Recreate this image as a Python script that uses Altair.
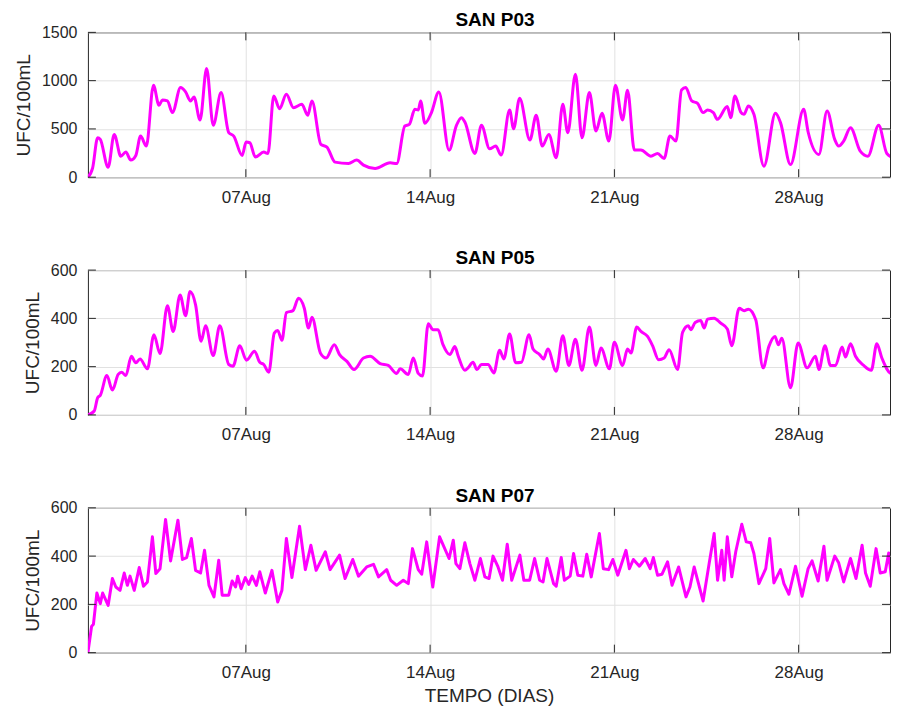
import altair as alt
import pandas as pd

BASE = "2023-08-01"

# ---- SAN P03 ----
p03_days = [0, 0.18, 0.37, 0.47, 0.77, 1.0, 1.25, 1.44, 1.63, 1.82, 2.0, 2.22, 2.49, 2.7, 2.83,
            3.02, 3.21, 3.52, 3.71, 3.9, 4.03, 4.26, 4.51, 4.76, 5.06, 5.35, 5.54, 5.86, 6.01,
            6.15, 6.36, 6.68, 6.84, 7.06, 7.28, 7.54, 7.81, 8.13, 8.35, 8.51, 8.85, 9.08, 9.39,
            9.9, 10.21, 10.47, 10.91, 11.48, 11.73, 12.04, 12.21, 12.42, 12.55, 12.64, 12.8,
            13.05, 13.33, 13.72, 14.0, 14.19, 14.32, 14.7, 14.95, 15.26, 15.49, 15.7, 16.02,
            16.17, 16.4, 16.79, 17.03, 17.26, 17.51, 17.79, 18.04, 18.23, 18.52, 18.77, 19.05,
            19.3, 19.53, 19.79, 20.04, 20.31, 20.5, 20.76, 21.01, 21.39, 21.64, 21.89, 22.11,
            22.34, 22.55, 22.71, 22.94, 23.16, 23.37, 23.54, 23.76, 23.91, 24.29, 24.42, 24.58,
            24.8, 24.92, 25.09, 25.3, 25.68, 26.12, 26.31, 26.69, 27.19, 27.36, 27.77, 28.08,
            28.37, 28.52, 28.71, 28.97, 29.34, 29.63, 30.04, 30.35, 30.76]
p03_vals = [0, 97, 409, 391, 104, 443, 218, 260, 177, 225, 426, 322, 953, 745, 800,
            790, 669, 928, 883, 790, 831, 592, 1126, 537, 876, 461, 426, 225, 364,
            357, 208, 260, 246, 842, 710, 859, 720, 755, 641, 790, 340, 312, 156,
            142, 177, 125, 90, 149, 142, 530, 547, 703, 696, 790, 558,
            669, 883, 280, 537, 617, 572, 246, 537, 294, 322, 229, 696,
            502, 818, 385, 641, 322, 443, 201, 755, 461, 1067, 409, 876,
            478, 662, 374, 953, 592, 900, 281, 281, 218, 246, 194, 426,
            374, 904, 928, 790, 765, 669, 696, 669, 599, 731, 617, 842,
            675, 651, 738, 651, 114, 662, 565, 132, 703, 468, 236, 686,
            391, 322, 374, 513, 270, 218, 537, 246, 180]

# ---- SAN P05 ----
p05_days = [0, 0.24, 0.37, 0.47, 0.72, 0.93, 1.15, 1.28, 1.44, 1.65, 1.82, 1.98, 2.26, 2.51,
            2.74, 3.02, 3.24, 3.5, 3.71, 3.88, 4.09, 4.3, 4.47, 4.76, 5.01, 5.35, 5.51, 5.77,
            6.02, 6.33, 6.53, 6.68, 6.87, 7.08, 7.21, 7.37, 7.54, 7.79, 8.0, 8.22, 8.38, 8.51,
            8.83, 9.05, 9.36, 9.56, 9.84, 10.11, 10.47, 10.72, 11.1, 11.41, 11.73, 11.86,
            12.17, 12.36, 12.55, 12.71, 12.93, 13.11, 13.3, 13.49, 13.75, 13.94, 14.07, 14.32,
            14.44, 14.63, 14.78, 14.95, 15.2, 15.42, 15.64, 15.8, 16.02, 16.25, 16.47, 16.76,
            16.91, 17.16, 17.31, 17.47, 17.79, 18.04, 18.27, 18.52, 18.77, 19.05, 19.3, 19.49,
            19.81, 20.0, 20.31, 20.5, 20.63, 20.85, 21.01, 21.26, 21.45, 21.68, 21.89, 22.08,
            22.4, 22.59, 22.81, 22.9, 23.07, 23.28, 23.41, 23.54, 23.79, 24.04, 24.29, 24.46,
            24.74, 24.93, 25.09, 25.37, 25.65, 25.87, 26.1, 26.23, 26.36, 26.69, 26.98, 27.32,
            27.64, 27.77, 28.0, 28.21, 28.4, 28.65, 28.78, 28.97, 29.16, 29.47, 29.76, 29.97,
            30.16, 30.52, 30.76]
p05_vals = [0, 16, 71, 81, 163, 103, 168, 177, 163, 243, 216, 232, 191, 332,
            254, 452, 346, 497, 411, 511, 456, 305, 369, 246, 369, 209, 202, 287,
            227, 264, 218, 209, 177, 339, 350, 309, 424, 432, 483, 442, 360, 405,
            257, 236, 291, 250, 222, 188, 236, 243, 213, 205, 172, 191,
            168, 236, 172, 161, 378, 353, 353, 291, 250, 284, 243, 185,
            195, 218, 188, 209, 209, 174, 268, 232, 335, 216, 218, 332,
            273, 250, 232, 273, 181, 328, 205, 314, 185, 364, 205, 277,
            191, 301, 205, 273, 257, 364, 346, 325, 287, 229, 236, 270,
            188, 342, 369, 353, 383, 391, 360, 397, 401, 380, 356, 287,
            442, 432, 438, 394, 195, 284, 325, 291, 318, 113, 298, 195,
            243, 188, 287, 205, 205, 281, 240, 295, 243, 205, 185, 295,
            236, 172, 215]

# ---- SAN P07 ----
p07_days = [0, 0.14, 0.21, 0.34, 0.47, 0.56, 0.77, 0.93, 1.06, 1.22, 1.38, 1.5, 1.6, 1.76,
            1.95, 2.11, 2.26, 2.45, 2.58, 2.74, 2.95, 3.14, 3.42, 3.59, 3.75, 3.93, 4.09, 4.28,
            4.43, 4.6, 4.79, 4.97, 5.1, 5.35, 5.48, 5.61, 5.69, 5.82, 5.98, 6.11, 6.24, 6.4,
            6.53, 6.74, 6.99, 7.21, 7.37, 7.54, 7.75, 8.04, 8.26, 8.47, 8.67, 9.02, 9.2, 9.56,
            9.77, 10.06, 10.28, 10.59, 10.85, 11.04, 11.35, 11.5, 11.73, 11.98, 12.17, 12.33,
            12.55, 12.68, 12.87, 13.1, 13.36, 13.72, 13.88, 13.98, 14.13, 14.32, 14.51, 14.7,
            14.91, 15.08, 15.24, 15.39, 15.58, 15.75, 15.93, 16.1, 16.41, 16.56, 16.78, 16.97,
            17.16, 17.29, 17.44, 17.69, 17.79, 17.98, 18.1, 18.32, 18.45, 18.61, 18.8, 18.95,
            19.12, 19.43, 19.58, 19.78, 19.94, 20.13, 20.44, 20.57, 20.72, 20.95, 21.17, 21.36,
            21.48, 21.64, 21.81, 22.02, 22.19, 22.44, 22.72, 22.87, 23.03, 23.37, 23.6, 23.79,
            23.92, 24.08, 24.17, 24.29, 24.46, 24.61, 24.84, 25.01, 25.18, 25.3, 25.49, 25.75,
            25.9, 26.06, 26.31, 26.44, 26.63, 26.88, 27.13, 27.36, 27.51, 27.74, 27.96, 28.08,
            28.37, 28.52, 28.71, 28.97, 29.18, 29.41, 29.54, 29.72, 29.94, 30.1, 30.29, 30.42,
            30.52, 30.67, 30.76]
p07_vals = [0, 109, 118, 247, 203, 247, 196, 307, 272, 258, 330, 279, 317, 258,
            353, 275, 293, 480, 328, 348, 552, 380, 549, 386, 394, 473, 341, 330,
            424, 279, 231, 383, 238, 238, 297, 272, 317, 265, 311, 283, 317, 279,
            335, 247, 341, 210, 258, 473, 311, 524, 344, 445, 341, 418, 344, 404,
            307, 386, 317, 355, 366, 314, 344, 300, 279, 300, 286, 431,
            344, 325, 459, 272, 480, 390, 466, 369, 348, 455, 369, 300,
            390, 314, 307, 400, 355, 300, 449, 300, 404, 300, 300, 390,
            300, 293, 390, 286, 275, 394, 300, 317, 411, 321, 317, 408,
            314, 494, 348, 344, 386, 321, 424, 348, 386, 358, 390, 348,
            394, 321, 325, 376, 279, 355, 231, 272, 355, 214, 369, 494,
            300, 424, 300, 480, 314, 418, 532, 459, 455, 411, 286, 348,
            473, 289, 344, 286, 242, 358, 234, 348, 380, 297, 441, 300,
            400, 372, 293, 390, 307, 445, 330, 275, 431, 330, 335, 413,
            314, 355, 328]

titles = ["SAN P03", "SAN P05", "SAN P07"]
y_max = [1500, 600, 600]
y_ticks = [[0, 500, 1000, 1500], [0, 200, 400, 600], [0, 200, 400, 600]]
x_tick_days = [6, 13, 20, 27]   # 07Aug, 14Aug, 21Aug, 28Aug

W, H = 803, 145
FONT = "Liberation Sans"
AX = "#262626"
GRID = "#e1e1e1"
MAG = "#FF00FF"
TICK = 8

base_ts = pd.Timestamp(BASE, tz="UTC")


def to_ts(days):
    return base_ts + pd.to_timedelta(pd.Series(days, dtype=float), unit="D")


x_dom = [alt.DateTime(year=2023, month=8, date=1, hours=0, utc=True),
         alt.DateTime(year=2023, month=8, date=31, hours=11, minutes=17, utc=True)]
x_vals = [alt.DateTime(year=2023, month=8, date=1 + d, utc=True) for d in x_tick_days]


def panel(days, vals, title, ymax, yt, interp, last):
    df = pd.DataFrame({"t": to_ts(days), "v": vals})
    xscale = alt.Scale(type="utc", domain=x_dom, nice=False)
    yscale = alt.Scale(domain=[0, ymax], nice=False, zero=True)
    xaxis_kw = dict(values=x_vals, format="%d%b", labelFontSize=17, labelFont=FONT,
                    labelColor=AX, tickSize=0, domain=False, grid=True, gridColor=GRID,
                    gridWidth=1, labelPadding=12, labelFlush=False)
    if last:
        xaxis_kw.update(title="TEMPO (DIAS)", titleFontSize=19, titleFont=FONT,
                        titleFontWeight="normal", titleColor=AX, titlePadding=6)
    else:
        xaxis_kw.update(title="")
    yaxis = alt.Axis(values=yt, format="d", labelFontSize=16, labelFont=FONT, labelColor=AX,
                     tickSize=0, domain=False, grid=True, gridColor=GRID, gridWidth=1,
                     labelPadding=11, title="UFC/100mL", titleFontSize=19, titleFont=FONT,
                     titleFontWeight="normal", titleColor=AX, titlePadding=8)
    line = alt.Chart(df).mark_line(color=MAG, strokeWidth=3, interpolate=interp,
                                   strokeJoin="round", strokeCap="round", clip=True).encode(
        x=alt.X("t:T", scale=xscale, axis=alt.Axis(**xaxis_kw)),
        y=alt.Y("v:Q", scale=yscale, axis=yaxis),
    )
    xt = pd.DataFrame({"t": to_ts(x_tick_days)})
    yt_df = pd.DataFrame({"v": yt})
    xb = alt.Chart(xt).mark_rule(color=AX, strokeWidth=1).encode(
        x="t:T", y=alt.value(H), y2=alt.value(H - TICK))
    xtop = alt.Chart(xt).mark_rule(color=AX, strokeWidth=1).encode(
        x="t:T", y=alt.value(0), y2=alt.value(TICK))
    yl = alt.Chart(yt_df).mark_rule(color=AX, strokeWidth=1).encode(
        y="v:Q", x=alt.value(0), x2=alt.value(TICK))
    yr = alt.Chart(yt_df).mark_rule(color=AX, strokeWidth=1).encode(
        y="v:Q", x=alt.value(W), x2=alt.value(W - TICK))
    return alt.layer(line, xb, xtop, yl, yr).properties(
        width=W, height=H,
        title=alt.Title(title, fontSize=19, fontWeight="bold", font=FONT, color="black",
                        offset=-6, dx=6),
    )


chart = alt.vconcat(
    panel(p03_days, p03_vals, titles[0], y_max[0], y_ticks[0], "monotone", False),
    panel(p05_days, p05_vals, titles[1], y_max[1], y_ticks[1], "monotone", False),
    panel(p07_days, p07_vals, titles[2], y_max[2], y_ticks[2], "linear", True),
    spacing=42,
).properties(
    padding={"left": 5, "top": 2, "right": 0, "bottom": 0},
    background="white",
).configure_view(stroke=AX, strokeWidth=1)

chart.save("out.html", embed_options={"renderer": "svg", "actions": False})
